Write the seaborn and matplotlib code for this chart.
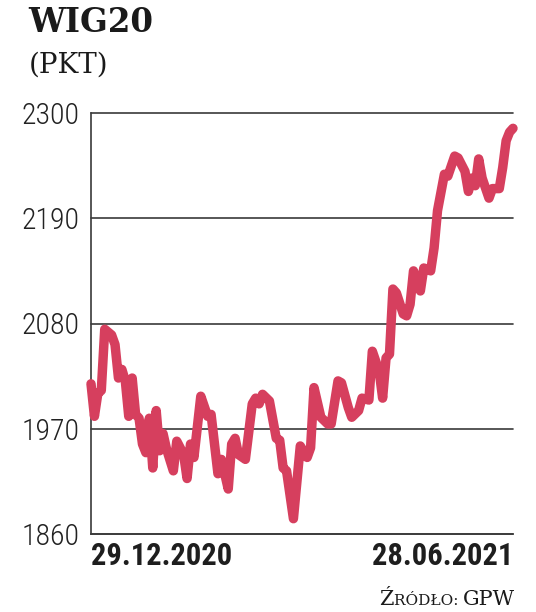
import numpy as np
import pandas as pd
import matplotlib
matplotlib.use("Agg")
import matplotlib.pyplot as plt
from matplotlib import font_manager
import seaborn as sns

# WIG20 closing values (session index from 29.12.2020)
sessions = [0, 1, 2, 3, 4, 6, 7, 8, 9, 10, 11, 12, 13, 14, 15, 16, 17, 18, 19, 20,
            21, 22, 24, 25, 27, 28, 29, 30, 32, 34, 35, 37, 38, 40, 41, 42, 43, 45,
            47, 48, 49, 50, 52, 54, 55, 56, 57, 59, 61, 63, 64, 65, 67, 69, 70, 72,
            73, 75, 76, 78, 79, 81, 82, 84, 85, 86, 87, 88, 89, 91, 92, 93, 94, 96,
            97, 99, 100, 101, 103, 104, 106, 107, 109, 110, 111, 112, 113, 114, 116,
            117, 119, 120, 121, 122, 123]
wig20 = [2017, 1983, 2007, 2010, 2074, 2068, 2058, 2023, 2032, 2020, 1983, 2023, 1985,
         1981, 1954, 1945, 1981, 1929, 1989, 1947, 1965, 1949, 1926, 1957, 1943, 1918,
         1954, 1940, 2004, 1983, 1985, 1923, 1938, 1907, 1954, 1960, 1943, 1938, 1996,
         2002, 1996, 2006, 1999, 1960, 1958, 1929, 1926, 1876, 1952, 1940, 1950, 2013,
         1982, 1975, 1975, 2020, 2018, 1992, 1982, 1989, 2002, 2000, 2051, 2030, 2002,
         2044, 2048, 2116, 2112, 2090, 2088, 2100, 2135, 2114, 2138, 2135, 2159, 2198,
         2236, 2234, 2255, 2253, 2239, 2218, 2232, 2224, 2252, 2232, 2211, 2221, 2221,
         2243, 2271, 2280, 2284]

y_ticks = [1860, 1970, 2080, 2190, 2300]
date_labels = ["29.12.2020", "28.06.2021"]

df = pd.DataFrame({"sesja": sessions, "wig20": wig20})

sns.set_theme(style="white")

# narrow sans for numbers if one is installed
names = {f.name for f in font_manager.fontManager.ttflist}
narrow = next((n for n in ["Roboto Condensed", "Liberation Sans Narrow"] if n in names), None)
if narrow:
    num_font, ysize, dsize = narrow, 21.5, 22
else:
    num_font, ysize, dsize = "Roboto", 19, 20
plt.rcParams["font.family"] = [num_font, "DejaVu Sans"]

fig = plt.figure(figsize=(5.36, 6.12), dpi=100)
ax = fig.add_axes([91 / 536, 78 / 612, 422 / 536, 421 / 612])

grid_col = "#3a3a3a"
for v in y_ticks:
    ax.axhline(v, color=grid_col, lw=1.2, zorder=1)

sns.lineplot(data=df, x="sesja", y="wig20", ax=ax, color="#d63f5e", lw=6.8,
             solid_capstyle="round", solid_joinstyle="round", zorder=3)
for ln in ax.lines:
    ln.set_clip_on(False)

ax.set_xlim(0, sessions[-1])
ax.set_ylim(y_ticks[0], y_ticks[-1])
ax.set_yticks(y_ticks)
ax.set_yticklabels([str(v) for v in y_ticks], fontsize=ysize, fontweight="light",
                   color="#222222")
ax.set_xticks([sessions[0], sessions[-1]])
ax.set_xticklabels(date_labels, fontsize=dsize, fontweight="bold", color="#1e1e1e")
xl = ax.get_xticklabels()
xl[0].set_ha("left")
xl[1].set_ha("right")
ax.tick_params(axis="y", length=0, pad=8)
ax.tick_params(axis="x", length=0, pad=5)
ax.set_xlabel("")
ax.set_ylabel("")

for s in ["top", "right"]:
    ax.spines[s].set_visible(False)
for s in ["left", "bottom"]:
    ax.spines[s].set_color(grid_col)
    ax.spines[s].set_linewidth(1.2)

fig.text(28 / 536, 1 - 32 / 612, "WIG20", fontsize=23.5, fontweight="bold",
         family="DejaVu Serif", color="#1a1a1a", ha="left", va="baseline")
fig.text(29 / 536, 1 - 73 / 612, "(PKT)", fontsize=20, family="DejaVu Serif",
         color="#1a1a1a", ha="left", va="baseline")

# source line in small caps, built right to left
fig.canvas.draw()
r = fig.canvas.get_renderer()
x_right = 515
pieces = [("GPW", 15), ("RÓDŁO: ", 11), ("Ź", 15)]
for txt, fs in pieces:
    t = fig.text(x_right / 536, 1 - 605 / 612, txt, fontsize=fs, family="DejaVu Serif",
                 color="#1a1a1a", ha="right", va="baseline")
    bb = t.get_window_extent(renderer=r)
    x_right = bb.x0

fig.savefig("out.png", dpi=100)
